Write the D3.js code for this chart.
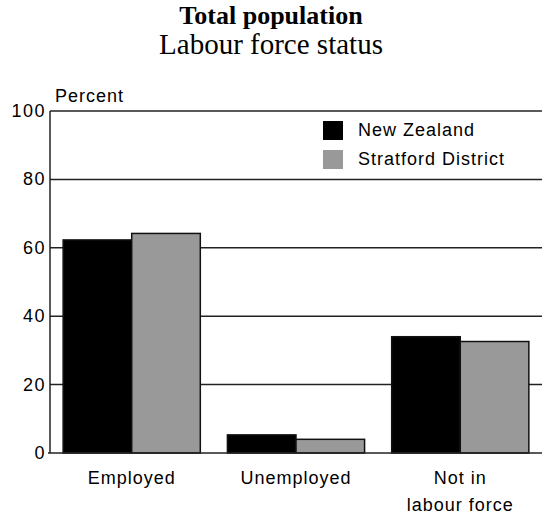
<!DOCTYPE html>
<html><head><meta charset="utf-8">
<script src="https://cdn.jsdelivr.net/npm/d3@7"></script>
<style>html,body{margin:0;padding:0;background:#fff;}svg{display:block;}</style>
</head><body>
<script>
const categories = [["Employed"], ["Unemployed"], ["Not in", "labour force"]];
const seriesNames = ["New Zealand", "Stratford District"];
const newZealand = [62.3, 5.3, 34.0];
const stratford = [64.2, 4.0, 32.6];
const yTicks = [0, 20, 40, 60, 80, 100];
const colors = ["#000000", "#999999"];

const W = 542, H = 516;
const svg = d3.select("body").append("svg").attr("width", W).attr("height", H);

const x = d3.scaleBand().domain(d3.range(categories.length)).range([50, 542]).paddingInner(0.165).paddingOuter(0.08);
const xs = d3.scaleBand().domain(d3.range(seriesNames.length)).range([0, x.bandwidth()]);
const y = d3.scaleLinear().domain([0, 100]).range([453, 111]);

// titles
const serif = "'Liberation Serif','Times New Roman',serif";
svg.append("text").attr("x", 271).attr("y", 24).attr("text-anchor", "middle")
  .style("font-family", serif).style("font-weight", "bold").style("font-size", "26px")
  .text("Total population");
svg.append("text").attr("x", 271).attr("y", 54).attr("text-anchor", "middle")
  .style("font-family", serif).style("font-size", "29px")
  .text("Labour force status");

// gridlines
const lineColor = "#222";
svg.append("g").selectAll("line").data(yTicks.filter(d => d > 0)).join("line")
  .attr("x1", 50).attr("x2", 542).attr("y1", d => y(d)).attr("y2", d => y(d))
  .attr("stroke", lineColor).attr("stroke-width", 1.5);

// bars
const series = [newZealand, stratford];
series.forEach((vals, si) => {
  svg.append("g").selectAll("rect").data(vals).join("rect")
    .attr("x", (d, i) => x(i) + xs(si))
    .attr("y", d => y(d))
    .attr("width", xs.bandwidth())
    .attr("height", d => y(0) - y(d))
    .attr("fill", colors[si]).attr("stroke", "#111").attr("stroke-width", 1.5);
});

// axes lines
svg.append("line").attr("x1", 50).attr("x2", 50).attr("y1", y(100)).attr("y2", y(0)).attr("stroke", lineColor).attr("stroke-width", 1.5);
svg.append("line").attr("x1", 48).attr("x2", 542).attr("y1", y(0)).attr("y2", y(0)).attr("stroke", lineColor).attr("stroke-width", 1.5);

// y tick labels
const axisFont = "'Liberation Sans',Arial,sans-serif";
svg.append("g").selectAll("text").data(yTicks).join("text")
  .attr("x", 46).attr("y", d => y(d) + 6).attr("text-anchor", "end")
  .style("font-family", axisFont).style("font-size", "18px").style("letter-spacing", "1.5px")
  .text(d => d);
svg.append("text").attr("x", 55).attr("y", 102).style("font-family", axisFont).style("font-size", "18px")
  .style("letter-spacing", "1px").text("Percent");

// category labels
categories.forEach((lines, i) => {
  lines.forEach((t, li) => {
    svg.append("text").attr("x", x(i) + x.bandwidth() / 2).attr("y", 484 + li * 27)
      .attr("text-anchor", "middle").style("font-family", axisFont).style("font-size", "18px")
      .style("letter-spacing", "1px").text(t);
  });
});

// legend
const lg = svg.append("g").attr("transform", "translate(323,121)");
seriesNames.forEach((n, i) => {
  lg.append("rect").attr("x", 0).attr("y", i * 29).attr("width", 20).attr("height", 19).attr("fill", colors[i]);
  lg.append("text").attr("x", 35).attr("y", i * 29 + 15).style("font-family", axisFont).style("font-size", "18px")
    .style("letter-spacing", "1px").text(n);
});
</script>
</body></html>
